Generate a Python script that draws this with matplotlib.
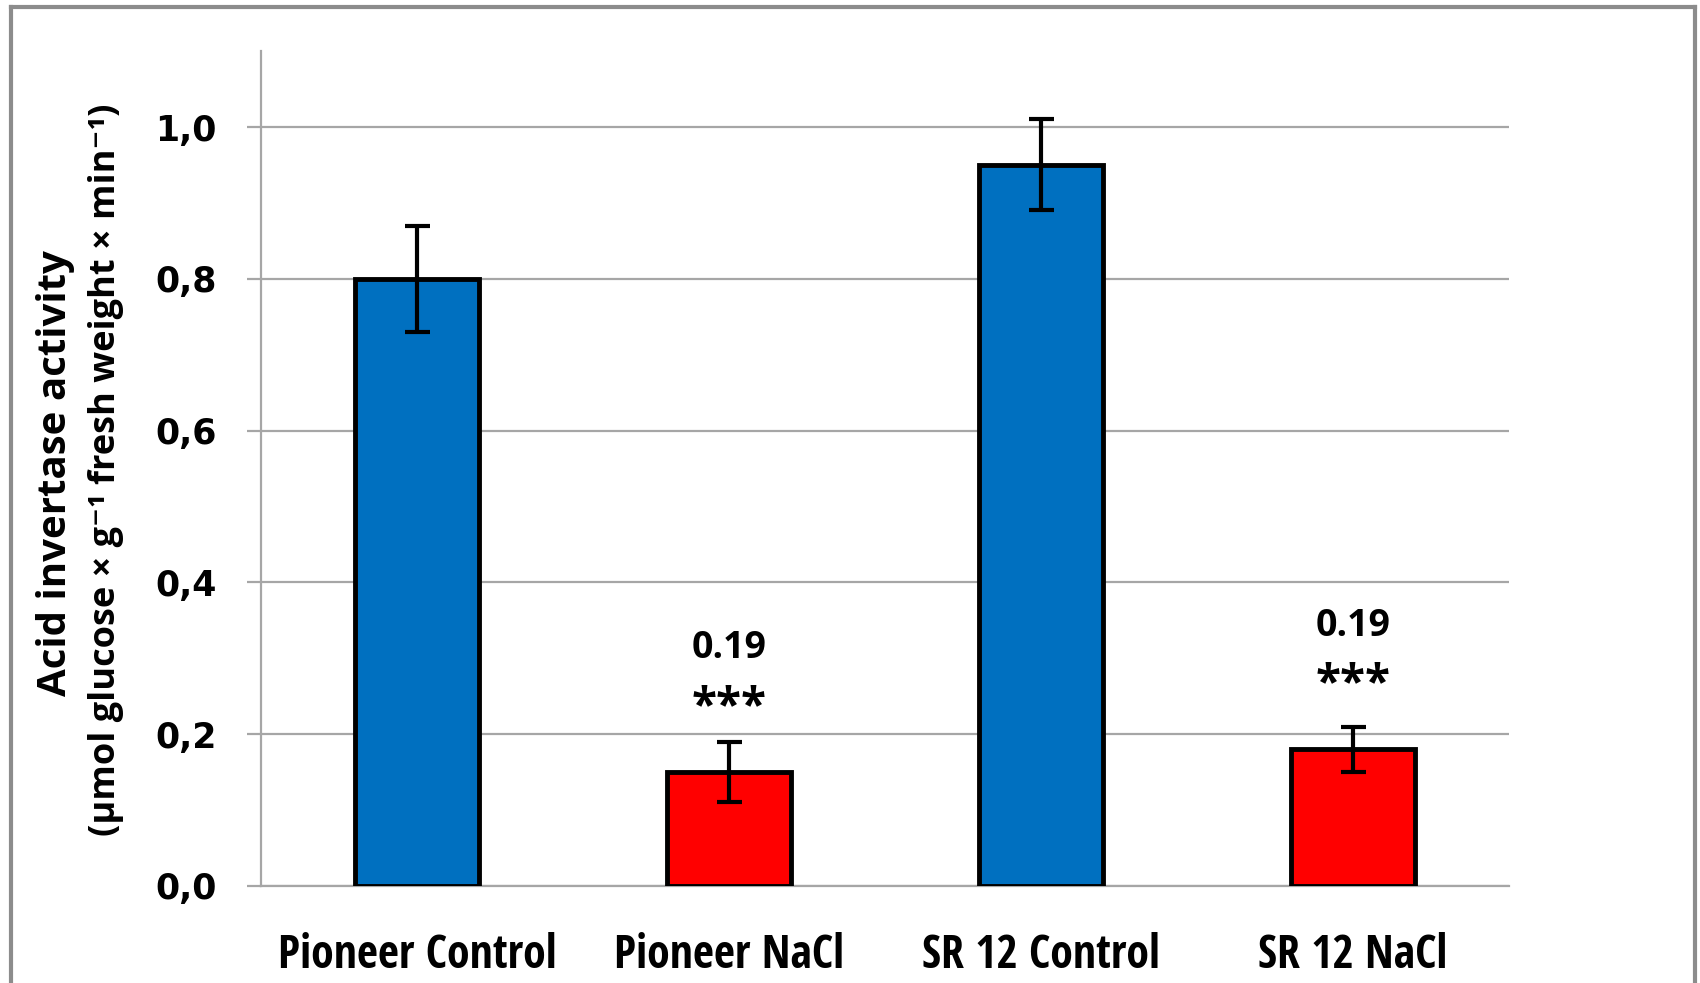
import matplotlib
matplotlib.use("Agg")
from matplotlib import pyplot as plt
from matplotlib.lines import Line2D

# Acid invertase activity per genotype / treatment
categories = ["Pioneer Control", "Pioneer NaCl", "SR 12 Control", "SR 12 NaCl"]
activity = [0.80, 0.15, 0.95, 0.18]
activity_err = [0.07, 0.04, 0.06, 0.03]
bar_colors = ["#0070C0", "#FF0000", "#0070C0", "#FF0000"]

# significance notes above the salt-treated bars
note_idx = [1, 3]
note_value = ["0.19", "0.19"]
note_stars = ["***", "***"]
note_y = [0.313, 0.343]

yticks = [0.0, 0.2, 0.4, 0.6, 0.8, 1.0]
ytick_labels = ["0,0", "0,2", "0,4", "0,6", "0,8", "1,0"]

narrow = ["Open Sans Condensed", "DejaVu Sans"]
wide = ["Open Sans", "DejaVu Sans"]
grid_gray = "#A6A6A6"

fig = plt.figure(figsize=(17, 9.83), dpi=100)
ax = fig.add_axes([0.1535, 0.0987, 0.7341, 0.8493])

x = list(range(len(categories)))
ax.bar(x, activity, width=0.4, color=bar_colors, edgecolor="black",
       linewidth=3.5, zorder=3)
ax.errorbar(x, activity, yerr=activity_err, fmt="none", ecolor="black",
            elinewidth=3, capsize=9, capthick=3, zorder=4)

for i, val, stars, yy in zip(note_idx, note_value, note_stars, note_y):
    ax.text(i, yy, val, ha="center", va="center", fontsize=27,
            fontweight="bold", family=wide, zorder=5)
    ax.text(i, yy - 0.078, stars, ha="center", va="center", fontsize=33,
            fontweight="bold", family=wide, zorder=5)

ax.set_xlim(-0.5, 3.5)
ax.set_ylim(0, 1.1)
ax.set_yticks(yticks)
ax.set_yticklabels(ytick_labels, fontsize=25, fontweight="bold",
                   family="DejaVu Sans")
ax.set_xticks(x)
ax.set_xticklabels(categories, fontsize=33, fontweight="bold", family=narrow)

ax.yaxis.grid(True, color=grid_gray, linewidth=1.6, zorder=0)
ax.set_axisbelow(True)
for side in ["top", "right"]:
    ax.spines[side].set_visible(False)
ax.spines["left"].set_color(grid_gray)
ax.spines["left"].set_linewidth(1.6)
ax.spines["bottom"].set_color(grid_gray)
ax.spines["bottom"].set_linewidth(1.6)
ax.tick_params(axis="y", length=10, width=1.6, color=grid_gray, pad=22)
ax.tick_params(axis="x", length=0, pad=33)

# two-line y label
fig.text(0.0325, 0.519, "Acid invertase activity", rotation=90,
         ha="center", va="center", fontsize=29, fontweight="bold",
         family=wide)
fig.text(0.0625, 0.522,
         "(μmol glucose × g\u207b\u00b9 fresh weight × min\u207b\u00b9)",
         rotation=90, ha="center", va="center", fontsize=26,
         fontweight="bold", family=wide)

# outer frame (open at the bottom edge)
frame = dict(color="#8C8C8C", linewidth=3, transform=fig.transFigure)
fig.add_artist(Line2D([0.0065, 0.0065], [0.0, 0.993], **frame))
fig.add_artist(Line2D([0.0065, 0.997], [0.993, 0.993], **frame))
fig.add_artist(Line2D([0.997, 0.997], [0.0, 0.993], **frame))

fig.savefig("out.png", dpi=100)
